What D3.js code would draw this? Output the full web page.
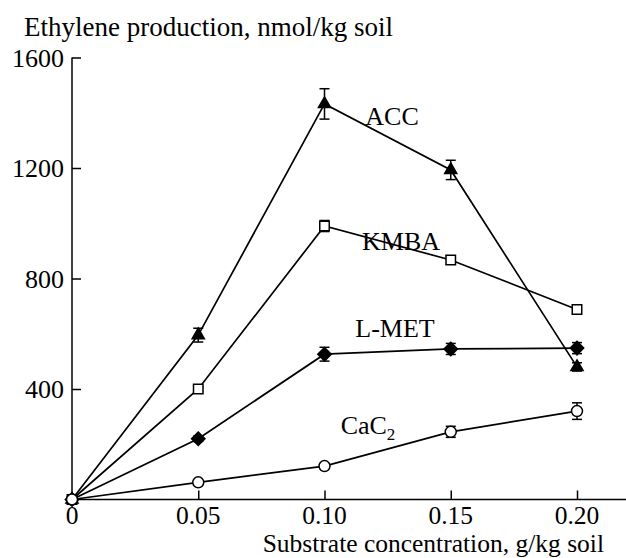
<!DOCTYPE html>
<html><head><meta charset="utf-8">
<script src="https://cdn.jsdelivr.net/npm/d3@7"></script>
<style>body{margin:0;background:#fff}svg{display:block}</style>
</head><body><svg id="c" width="626" height="558" font-family="'Liberation Serif','Times New Roman',serif"></svg>
<script>
const concentrations = [0, 0.05, 0.10, 0.15, 0.20];
const accValues  = [0, 595, 1432, 1193, 480];
const accErr     = [0, 25, 55, 35, 15];
const kmbaValues = [0, 400, 990, 867, 688];
const kmbaErr    = [0, 8, 20, 15, 8];
const lmetValues = [0, 220, 526, 545, 548];
const lmetErr    = [0, 10, 25, 20, 20];
const cac2Values = [0, 62, 121, 245, 320];
const cac2Err    = [0, 5, 10, 20, 30];
const xTicks = [0, 0.05, 0.10, 0.15, 0.20];
const xTickLabels = ["0", "0.05", "0.10", "0.15", "0.20"];
const yTicks = [400, 800, 1200, 1600];
const seriesNames = ["ACC", "KMBA", "L-MET", "CaC2"];

const svg = d3.select("#c");
const x = d3.scaleLinear().domain([0, 0.2]).range([72, 577]);
const y = d3.scaleLinear().domain([0, 1600]).range([499.5, 57.5]);
const FS = 26;

// axes
const xAxis = svg.append("g").attr("transform", `translate(0,${y(0)})`)
  .call(d3.axisTop(x).tickValues(xTicks.slice(1)).tickSize(9).tickFormat(""));
xAxis.select(".domain").remove();
xAxis.selectAll("line").attr("stroke-width", 1.5);
svg.append("line").attr("x1", x(0)).attr("x2", 626).attr("y1", y(0)).attr("y2", y(0))
  .attr("stroke", "#000").attr("stroke-width", 1.5);
svg.append("g").selectAll("text").data(xTicks).join("text")
  .attr("x", d => x(d)).attr("y", y(0) + 24.5).attr("text-anchor", "middle")
  .style("font-size", "25.5px").text((d, i) => xTickLabels[i]);

const yAxis = svg.append("g").attr("transform", `translate(${x(0)},0)`)
  .call(d3.axisRight(y).tickValues(yTicks).tickSize(9).tickFormat(""));
yAxis.select(".domain").remove();
yAxis.selectAll("line").attr("stroke-width", 1.5);
svg.append("line").attr("x1", x(0)).attr("x2", x(0)).attr("y1", y(1600)).attr("y2", y(0))
  .attr("stroke", "#000").attr("stroke-width", 1.5);
svg.append("g").selectAll("text").data(yTicks).join("text")
  .attr("x", x(0) - 8).attr("y", d => y(d) + 9).attr("text-anchor", "end")
  .style("font-size", FS + "px").text(d => d);

svg.append("text").attr("x", 24).attr("y", 36).style("font-size", "27px")
  .text("Ethylene production, nmol/kg soil");
svg.append("text").attr("x", 604).attr("y", 551.5).attr("text-anchor", "end").style("font-size", "25.5px")
  .text("Substrate concentration, g/kg soil");

const series = [
  {vals: accValues, err: accErr, marker: "triangle"},
  {vals: kmbaValues, err: kmbaErr, marker: "square"},
  {vals: lmetValues, err: lmetErr, marker: "diamond"},
  {vals: cac2Values, err: cac2Err, marker: "circle"}
];
const line = d3.line().x((d, i) => x(concentrations[i])).y(d => y(d));

series.forEach(s => {
  svg.append("path").attr("d", line(s.vals)).attr("fill", "none")
    .attr("stroke", "#000").attr("stroke-width", 1.7);
});
series.forEach(s => {
  const g = svg.append("g");
  s.vals.forEach((v, i) => {
    const e = s.err[i];
    if (e > 0) {
      const cx = x(concentrations[i]);
      g.append("line").attr("x1", cx).attr("x2", cx).attr("y1", y(v - e)).attr("y2", y(v + e))
        .attr("stroke", "#000").attr("stroke-width", 1.5);
      [v - e, v + e].forEach(t => g.append("line").attr("x1", cx - 5).attr("x2", cx + 5)
        .attr("y1", y(t)).attr("y2", y(t)).attr("stroke", "#000").attr("stroke-width", 1.5));
    }
  });
  let sym, rot = 0;
  if (s.marker === "triangle") sym = d3.symbol(d3.symbolTriangle, 64);
  else if (s.marker === "square") sym = d3.symbol(d3.symbolSquare, 90);
  else if (s.marker === "diamond") { sym = d3.symbol(d3.symbolSquare, 90); rot = 45; }
  else sym = d3.symbol(d3.symbolCircle, 95);
  const filled = s.marker === "triangle" || s.marker === "diamond";
  g.selectAll("path.m").data(s.vals).join("path").attr("class", "m")
    .attr("transform", (d, i) => `translate(${x(concentrations[i])},${y(d)}) rotate(${rot})`)
    .attr("d", sym).attr("fill", filled ? "#000" : "#fff")
    .attr("stroke", "#000").attr("stroke-width", 1.5);
});

// series labels
const labelPos = [[392, 125], [401, 250], [395, 337], [368, 434]];
seriesNames.forEach((n, i) => {
  const t = svg.append("text").attr("x", labelPos[i][0]).attr("y", labelPos[i][1])
    .attr("text-anchor", "middle").style("font-size", FS + "px");
  if (n === "CaC2") {
    t.text("CaC");
    t.append("tspan").attr("dy", 6).style("font-size", "17px").text("2");
  } else t.text(n);
});
</script></body></html>
